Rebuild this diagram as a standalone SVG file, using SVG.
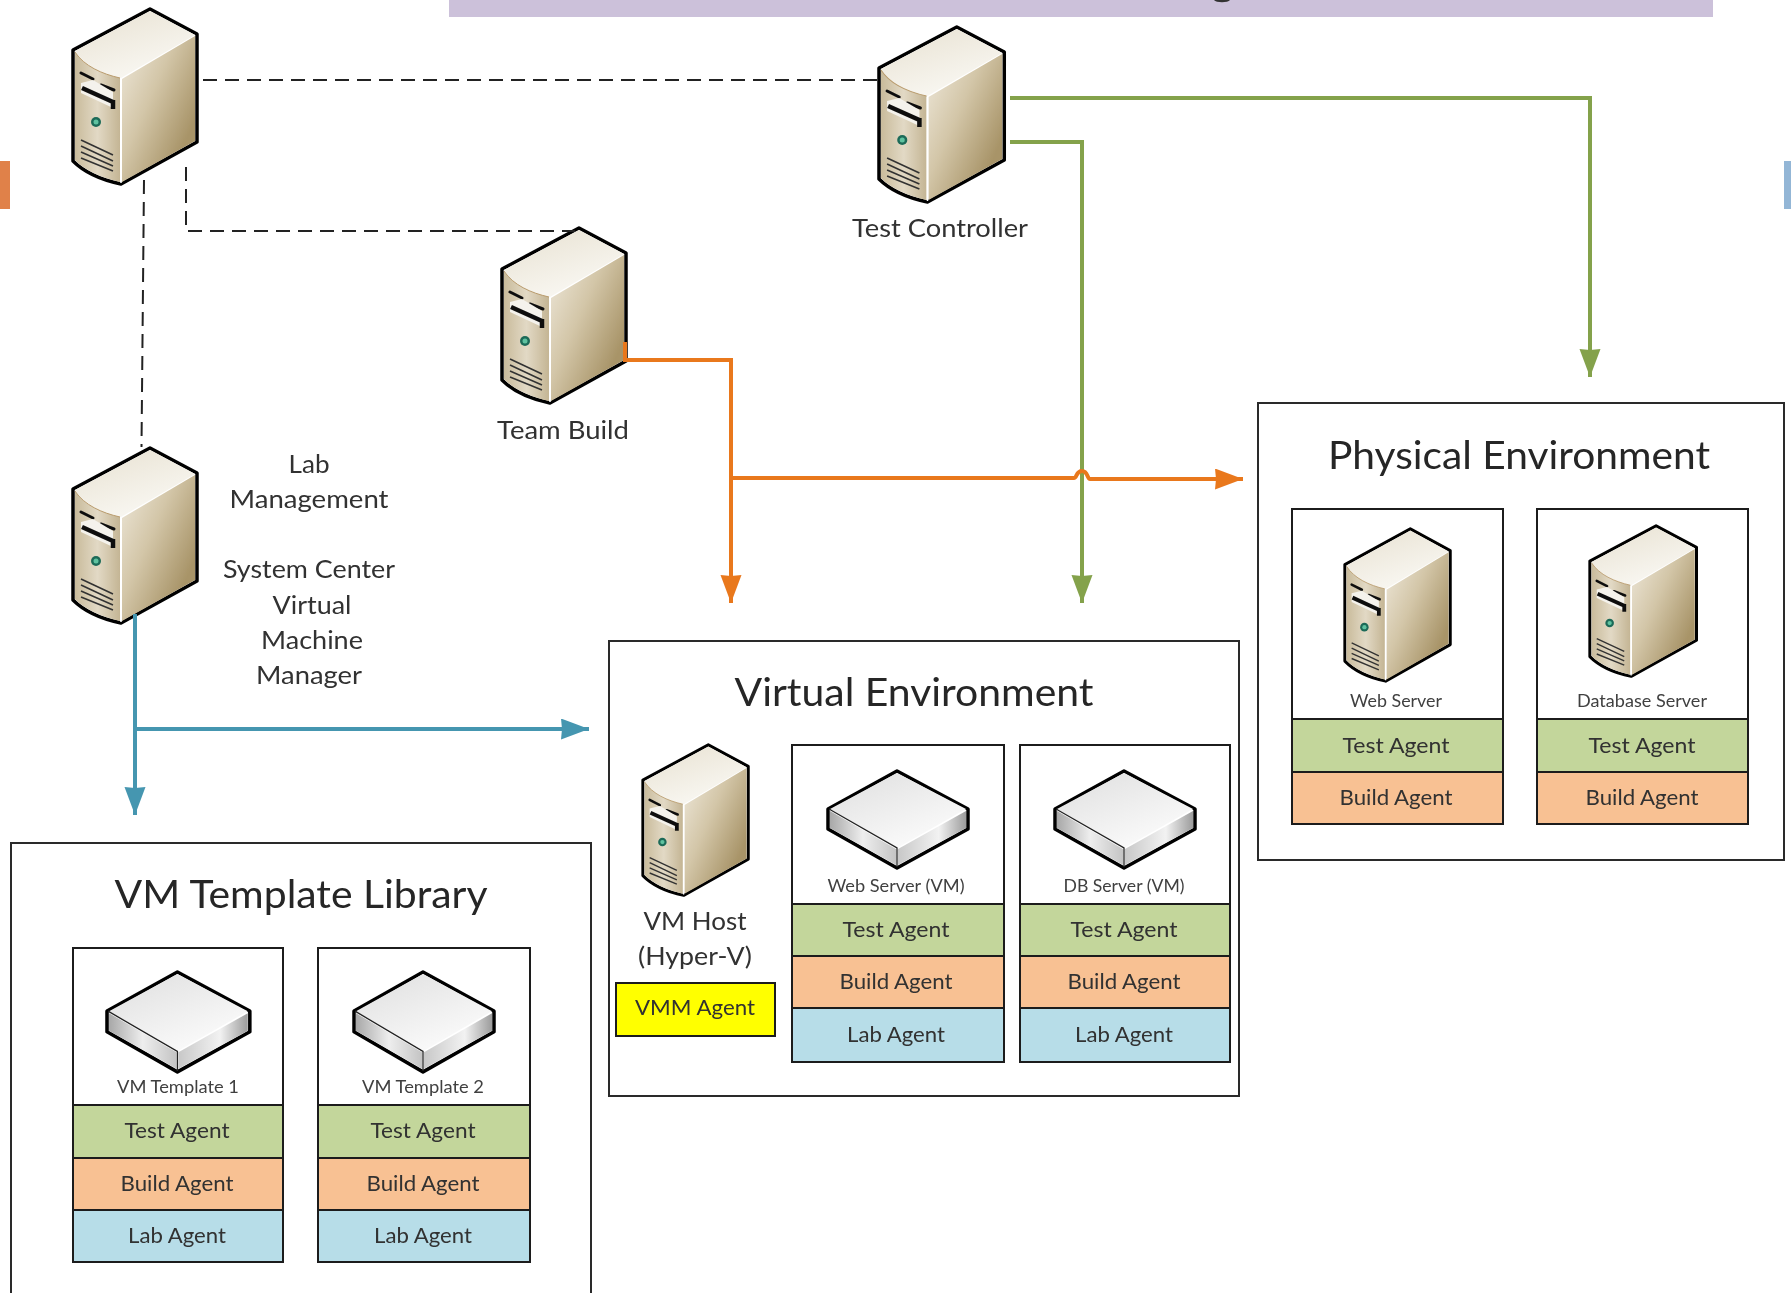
<svg xmlns="http://www.w3.org/2000/svg" width="1791" height="1293" viewBox="0 0 1791 1293">
<style>
text{font-family:"Lato","Open Sans","Liberation Sans",sans-serif;fill:#303030;text-anchor:middle}
.t{font-size:38px;fill:#252525}
.m{font-size:25px}
.a{font-size:22px}
.s{font-size:17.5px;fill:#404040}
.o{fill:#fff;stroke:#2b2b2b;stroke-width:2}
.i{fill:#fff;stroke:#1e1e1e;stroke-width:2}
.g{fill:#C3D69B;stroke:#1e1e1e;stroke-width:2}
.b{fill:#F8C193;stroke:#1e1e1e;stroke-width:2}
.l{fill:#B7DDE8;stroke:#1e1e1e;stroke-width:2}
.y{fill:#FFFF00;stroke:#1e1e1e;stroke-width:2}
.d{fill:none;stroke:#222;stroke-width:2;stroke-dasharray:14 8}
.c{fill:none;stroke-width:4}
</style>
<defs>
<filter id="soft" x="0" y="0" width="1791" height="1293" filterUnits="userSpaceOnUse"><feGaussianBlur stdDeviation="0.55"/></filter>
<linearGradient id="top" x1="0.2" y1="0" x2="0.8" y2="1"><stop offset="0" stop-color="#e9e3d4"/><stop offset="1" stop-color="#fbfaf6"/></linearGradient>
<linearGradient id="front" x1="0" y1="0" x2="1" y2="0"><stop offset="0" stop-color="#c9bb9b"/><stop offset="0.5" stop-color="#e2d9c5"/><stop offset="1" stop-color="#c4b594"/></linearGradient>
<linearGradient id="right" x1="0" y1="0" x2="0.85" y2="0.75"><stop offset="0" stop-color="#efe9dc"/><stop offset="0.5" stop-color="#d3c6a8"/><stop offset="1" stop-color="#a89468"/></linearGradient>
<linearGradient id="bt" x1="0.1" y1="0" x2="0.8" y2="1"><stop offset="0" stop-color="#e0e0e0"/><stop offset="1" stop-color="#fdfdfd"/></linearGradient>
<linearGradient id="bl" x1="0" y1="0" x2="1" y2="0"><stop offset="0" stop-color="#a8a8a8"/><stop offset="0.5" stop-color="#eeeeee"/><stop offset="1" stop-color="#c4c4c4"/></linearGradient>
<linearGradient id="br" x1="0" y1="0" x2="1" y2="0"><stop offset="0" stop-color="#c8c8c8"/><stop offset="0.6" stop-color="#f2f2f2"/><stop offset="1" stop-color="#9c9c9c"/></linearGradient>
<marker id="ao" markerUnits="userSpaceOnUse" markerWidth="30" markerHeight="22" refX="28" refY="10.5" orient="auto"><path d="M0,0L28,10.5L0,21L1,10.5Z" fill="#E9781E"/></marker>
<marker id="ag" markerUnits="userSpaceOnUse" markerWidth="30" markerHeight="22" refX="28" refY="10.5" orient="auto"><path d="M0,0L28,10.5L0,21L1,10.5Z" fill="#84A24C"/></marker>
<marker id="ab" markerUnits="userSpaceOnUse" markerWidth="30" markerHeight="22" refX="28" refY="10.5" orient="auto"><path d="M0,0L28,10.5L0,21L1,10.5Z" fill="#4596B0"/></marker>
<g id="server">
<path d="M78,1L125,26V134L49,176C30,172 12,164 1,153V42Z" fill="#fff" stroke="#000" stroke-width="3.5" stroke-linejoin="round"/>
<path d="M78,3L123,27L49,70C30,66 12,58 3,43Z" fill="url(#top)"/>
<path d="M3,44C12,58 30,66 48,70V174C30,170 12,162 3,152Z" fill="url(#front)"/>
<path d="M50,71L123,28V133L50,174Z" fill="url(#right)"/>
<path d="M3,44C12,58 30,66 48,70" fill="none" stroke="#b99b6c" stroke-width="1"/>
<path d="M49,71V175" stroke="#fff" stroke-width="1.5"/>
<path d="M9,65L21,71M29,77L42,82" stroke="#111" stroke-width="3" stroke-linecap="round"/>
<path d="M9,75L21,72L41,84V100L9,85Z" fill="#f4f2ec"/>
<path d="M10,80L41,94M41,92V101" stroke="#111" stroke-width="4.5" fill="none"/>
<circle cx="24" cy="114" r="5" fill="#1d6b58"/><circle cx="24" cy="114" r="2.5" fill="#5fc2a0"/>
<path d="M9,132L41,147M9,138L41,153M9,144L41,158M9,150L41,163" stroke="#333" stroke-width="1.6" fill="none"/>
</g>
<g id="vmbox">
<path d="M70,1L141,39V59L70,98L1,59V39Z" fill="#fff" stroke="#000" stroke-width="3.5" stroke-linejoin="round"/>
<path d="M70,3L139,39L70,78L3,39Z" fill="url(#bt)"/>
<path d="M3,41L69,79V95L3,58Z" fill="url(#bl)"/>
<path d="M71,79L139,41V58L71,95Z" fill="url(#br)"/>
<path d="M2,39L70,78V97" stroke="#222" stroke-width="1.3" fill="none"/>
</g>
</defs>
<g filter="url(#soft)">
<rect width="1791" height="1293" fill="#fff"/>
<g id="top-bar"><rect x="449" y="0" width="1264" height="17" fill="#CCC1DA"/><path d="M1214,0C1216,3 1228,3 1230,0Z" fill="#333"/></g>
<rect id="left-tab" x="0" y="161" width="10" height="48" fill="#E0814A"/>
<rect id="right-tab" x="1784" y="161" width="7" height="48" fill="#93B6D6"/>

<g id="vm-template-library">
<rect class="o" x="11" y="843" width="580" height="470"/>
<text class="t" x="301" y="908" textLength="373" lengthAdjust="spacingAndGlyphs">VM Template Library</text>
<g id="vm-template-1">
<rect class="i" x="73" y="948" width="210" height="157"/>
<use href="#vmbox" transform="translate(106,971) scale(1.02,1.03)"/>
<text class="s" x="178" y="1093" textLength="122" lengthAdjust="spacingAndGlyphs">VM Template 1</text>
<rect class="g" x="73" y="1105" width="210" height="53"/><text class="a" x="177" y="1138" textLength="105" lengthAdjust="spacingAndGlyphs">Test Agent</text>
<rect class="b" x="73" y="1158" width="210" height="52"/><text class="a" x="177" y="1191" textLength="113" lengthAdjust="spacingAndGlyphs">Build Agent</text>
<rect class="l" x="73" y="1210" width="210" height="52"/><text class="a" x="177" y="1243" textLength="98" lengthAdjust="spacingAndGlyphs">Lab Agent</text>
</g>
<g id="vm-template-2">
<rect class="i" x="318" y="948" width="212" height="157"/>
<use href="#vmbox" transform="translate(353,971) scale(1,1.03)"/>
<text class="s" x="423" y="1093" textLength="122" lengthAdjust="spacingAndGlyphs">VM Template 2</text>
<rect class="g" x="318" y="1105" width="212" height="53"/><text class="a" x="423" y="1138" textLength="105" lengthAdjust="spacingAndGlyphs">Test Agent</text>
<rect class="b" x="318" y="1158" width="212" height="52"/><text class="a" x="423" y="1191" textLength="113" lengthAdjust="spacingAndGlyphs">Build Agent</text>
<rect class="l" x="318" y="1210" width="212" height="52"/><text class="a" x="423" y="1243" textLength="98" lengthAdjust="spacingAndGlyphs">Lab Agent</text>
</g>
</g>

<g id="virtual-environment">
<rect class="o" x="609" y="641" width="630" height="455"/>
<text class="t" x="914" y="706" textLength="359" lengthAdjust="spacingAndGlyphs">Virtual Environment</text>
<g id="vm-host">
<use href="#server" transform="translate(642,744) scale(0.85,0.86)"/>
<text class="m" x="695" y="930" textLength="103" lengthAdjust="spacingAndGlyphs">VM Host</text>
<text class="m" x="695" y="965" textLength="114" lengthAdjust="spacingAndGlyphs">(Hyper-V)</text>
<rect class="y" x="616" y="983" width="159" height="53"/><text class="a" x="695" y="1015" textLength="120" lengthAdjust="spacingAndGlyphs">VMM Agent</text>
</g>
<g id="web-server-vm">
<rect class="i" x="792" y="745" width="212" height="159"/>
<use href="#vmbox" transform="translate(827,770)"/>
<text class="s" x="896" y="892" textLength="137" lengthAdjust="spacingAndGlyphs">Web Server (VM)</text>
<rect class="g" x="792" y="904" width="212" height="52"/><text class="a" x="896" y="937" textLength="107" lengthAdjust="spacingAndGlyphs">Test Agent</text>
<rect class="b" x="792" y="956" width="212" height="52"/><text class="a" x="896" y="989" textLength="113" lengthAdjust="spacingAndGlyphs">Build Agent</text>
<rect class="l" x="792" y="1008" width="212" height="54"/><text class="a" x="896" y="1042" textLength="98" lengthAdjust="spacingAndGlyphs">Lab Agent</text>
</g>
<g id="db-server-vm">
<rect class="i" x="1020" y="745" width="210" height="159"/>
<use href="#vmbox" transform="translate(1054,770)"/>
<text class="s" x="1124" y="892" textLength="121" lengthAdjust="spacingAndGlyphs">DB Server (VM)</text>
<rect class="g" x="1020" y="904" width="210" height="52"/><text class="a" x="1124" y="937" textLength="107" lengthAdjust="spacingAndGlyphs">Test Agent</text>
<rect class="b" x="1020" y="956" width="210" height="52"/><text class="a" x="1124" y="989" textLength="113" lengthAdjust="spacingAndGlyphs">Build Agent</text>
<rect class="l" x="1020" y="1008" width="210" height="54"/><text class="a" x="1124" y="1042" textLength="98" lengthAdjust="spacingAndGlyphs">Lab Agent</text>
</g>
</g>

<g id="physical-environment">
<rect class="o" x="1258" y="403" width="526" height="457"/>
<text class="t" x="1519" y="469" textLength="382" lengthAdjust="spacingAndGlyphs">Physical Environment</text>
<g id="web-server">
<rect class="i" x="1292" y="509" width="211" height="210"/>
<use href="#server" transform="translate(1344,528) scale(0.85,0.87)"/>
<text class="s" x="1396" y="707" textLength="92" lengthAdjust="spacingAndGlyphs">Web Server</text>
<rect class="g" x="1292" y="719" width="211" height="53"/><text class="a" x="1396" y="753" textLength="107" lengthAdjust="spacingAndGlyphs">Test Agent</text>
<rect class="b" x="1292" y="772" width="211" height="52"/><text class="a" x="1396" y="805" textLength="113" lengthAdjust="spacingAndGlyphs">Build Agent</text>
</g>
<g id="database-server">
<rect class="i" x="1537" y="509" width="211" height="210"/>
<use href="#server" transform="translate(1589,525) scale(0.86,0.86)"/>
<text class="s" x="1642" y="707" textLength="130" lengthAdjust="spacingAndGlyphs">Database Server</text>
<rect class="g" x="1537" y="719" width="211" height="53"/><text class="a" x="1642" y="753" textLength="107" lengthAdjust="spacingAndGlyphs">Test Agent</text>
<rect class="b" x="1537" y="772" width="211" height="52"/><text class="a" x="1642" y="805" textLength="113" lengthAdjust="spacingAndGlyphs">Build Agent</text>
</g>
</g>

<g id="server-top-left"><use href="#server" transform="translate(72,8)"/></g>
<g id="test-controller"><use href="#server" transform="translate(878,26) scale(1.01,1)"/>
<text class="m" x="940" y="237" textLength="176" lengthAdjust="spacingAndGlyphs">Test Controller</text></g>
<g id="team-build"><use href="#server" transform="translate(501,227)"/>
<text class="m" x="563" y="439" textLength="132" lengthAdjust="spacingAndGlyphs">Team Build</text></g>
<g id="lab-management"><use href="#server" transform="translate(72,447)"/>
<text class="m" x="309" y="473" textLength="41" lengthAdjust="spacingAndGlyphs">Lab</text>
<text class="m" x="309" y="508" textLength="159" lengthAdjust="spacingAndGlyphs">Management</text>
<text class="m" x="309" y="578" textLength="172" lengthAdjust="spacingAndGlyphs">System Center</text>
<text class="m" x="312" y="614" textLength="79" lengthAdjust="spacingAndGlyphs">Virtual</text>
<text class="m" x="312" y="649" textLength="102" lengthAdjust="spacingAndGlyphs">Machine</text>
<text class="m" x="309" y="684" textLength="106" lengthAdjust="spacingAndGlyphs">Manager</text></g>

<g id="connectors">
<path class="d" d="M203,80H877"/>
<path class="d" d="M186,167V231H575"/>
<path class="d" d="M144,180L141.5,447"/>
<path class="c" stroke="#84A24C" marker-end="url(#ag)" d="M1010,98H1590V377"/>
<path class="c" stroke="#84A24C" marker-end="url(#ag)" d="M1010,142H1082V603"/>
<path class="c" stroke="#E9781E" marker-end="url(#ao)" d="M625,342V360H731V603"/>
<path class="c" stroke="#E9781E" marker-end="url(#ao)" d="M731,478H1074C1077,478 1076,471 1082,471C1088,471 1087,479 1090,479H1243"/>
<path class="c" stroke="#4596B0" marker-end="url(#ab)" d="M135,614V815"/>
<path class="c" stroke="#4596B0" marker-end="url(#ab)" d="M135,729H589"/>
</g>
</g>
</svg>
